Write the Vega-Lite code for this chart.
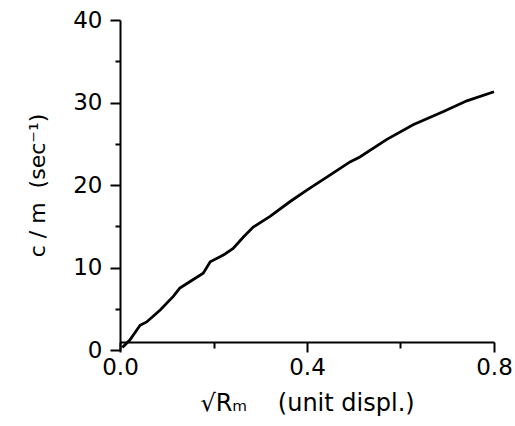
{
  "$schema": "https://vega.github.io/schema/vega-lite/v6.json",
  "width": 374,
  "height": 330,
  "autosize": {"type": "none"},
  "padding": {"left": 120, "top": 20, "right": 21, "bottom": 76},
  "background": "white",
  "data": {"values": [
    {"x": 0.005, "y": 0.3},
    {"x": 0.021, "y": 1.2},
    {"x": 0.043, "y": 3.0},
    {"x": 0.057, "y": 3.4},
    {"x": 0.086, "y": 4.85},
    {"x": 0.114, "y": 6.5},
    {"x": 0.128, "y": 7.5},
    {"x": 0.150, "y": 8.3},
    {"x": 0.178, "y": 9.3},
    {"x": 0.193, "y": 10.7},
    {"x": 0.221, "y": 11.5},
    {"x": 0.242, "y": 12.3},
    {"x": 0.264, "y": 13.7},
    {"x": 0.285, "y": 14.9},
    {"x": 0.321, "y": 16.2},
    {"x": 0.364, "y": 18.0},
    {"x": 0.403, "y": 19.5},
    {"x": 0.449, "y": 21.2},
    {"x": 0.492, "y": 22.8},
    {"x": 0.513, "y": 23.4},
    {"x": 0.570, "y": 25.5},
    {"x": 0.627, "y": 27.3},
    {"x": 0.692, "y": 28.9},
    {"x": 0.742, "y": 30.2},
    {"x": 0.800, "y": 31.3}
  ]},
  "config": {
    "view": {"stroke": null},
    "axis": {
      "labelFont": "DejaVu Sans",
      "titleFont": "DejaVu Sans",
      "domainColor": "black",
      "tickColor": "black",
      "labelColor": "black",
      "titleColor": "black",
      "grid": false,
      "domainWidth": 2,
      "tickWidth": 2,
      "labelFlush": false
    }
  },
  "layer": [
    {
      "mark": {"type": "line", "color": "black", "strokeWidth": 2.8},
      "encoding": {
        "x": {"field": "x", "type": "quantitative",
          "scale": {"domain": [0, 0.8], "nice": false},
          "axis": {"orient": "bottom", "values": [0, 0.4, 0.8], "format": ".1f", "tickSize": 10,
            "labelPadding": 4, "labelFontSize": 23, "offset": -8,
            "title": "√Rₘ\u00a0\u00a0\u00a0\u00a0(unit displ.)", "titleFontSize": 24, "titleFontWeight": "normal", "titlePadding": 12}},
        "y": {"field": "y", "type": "quantitative",
          "scale": {"domain": [0, 40], "nice": false},
          "axis": {"orient": "left", "values": [0, 10, 20, 30, 40], "tickSize": 10, "labelPadding": 8,
            "labelFontSize": 23, "title": "c / m\u00a0\u00a0(sec⁻¹)", "titleFontSize": 22,
            "titleFontWeight": "normal", "titlePadding": 23}}
      }
    },
    {
      "mark": {"type": "line", "opacity": 0},
      "encoding": {
        "x": {"field": "x", "type": "quantitative",
          "scale": {"domain": [0, 0.8], "nice": false},
          "axis": {"orient": "bottom", "values": [0.2, 0.6], "tickSize": 6, "labels": false,
            "domain": false, "title": null, "offset": -8}},
        "y": {"field": "y", "type": "quantitative",
          "scale": {"domain": [0, 40], "nice": false},
          "axis": {"orient": "left", "values": [5, 15, 25, 35], "tickSize": 5, "labels": false,
            "domain": false, "title": null}}
      }
    }
  ],
  "resolve": {"axis": {"x": "independent", "y": "independent"}}
}
